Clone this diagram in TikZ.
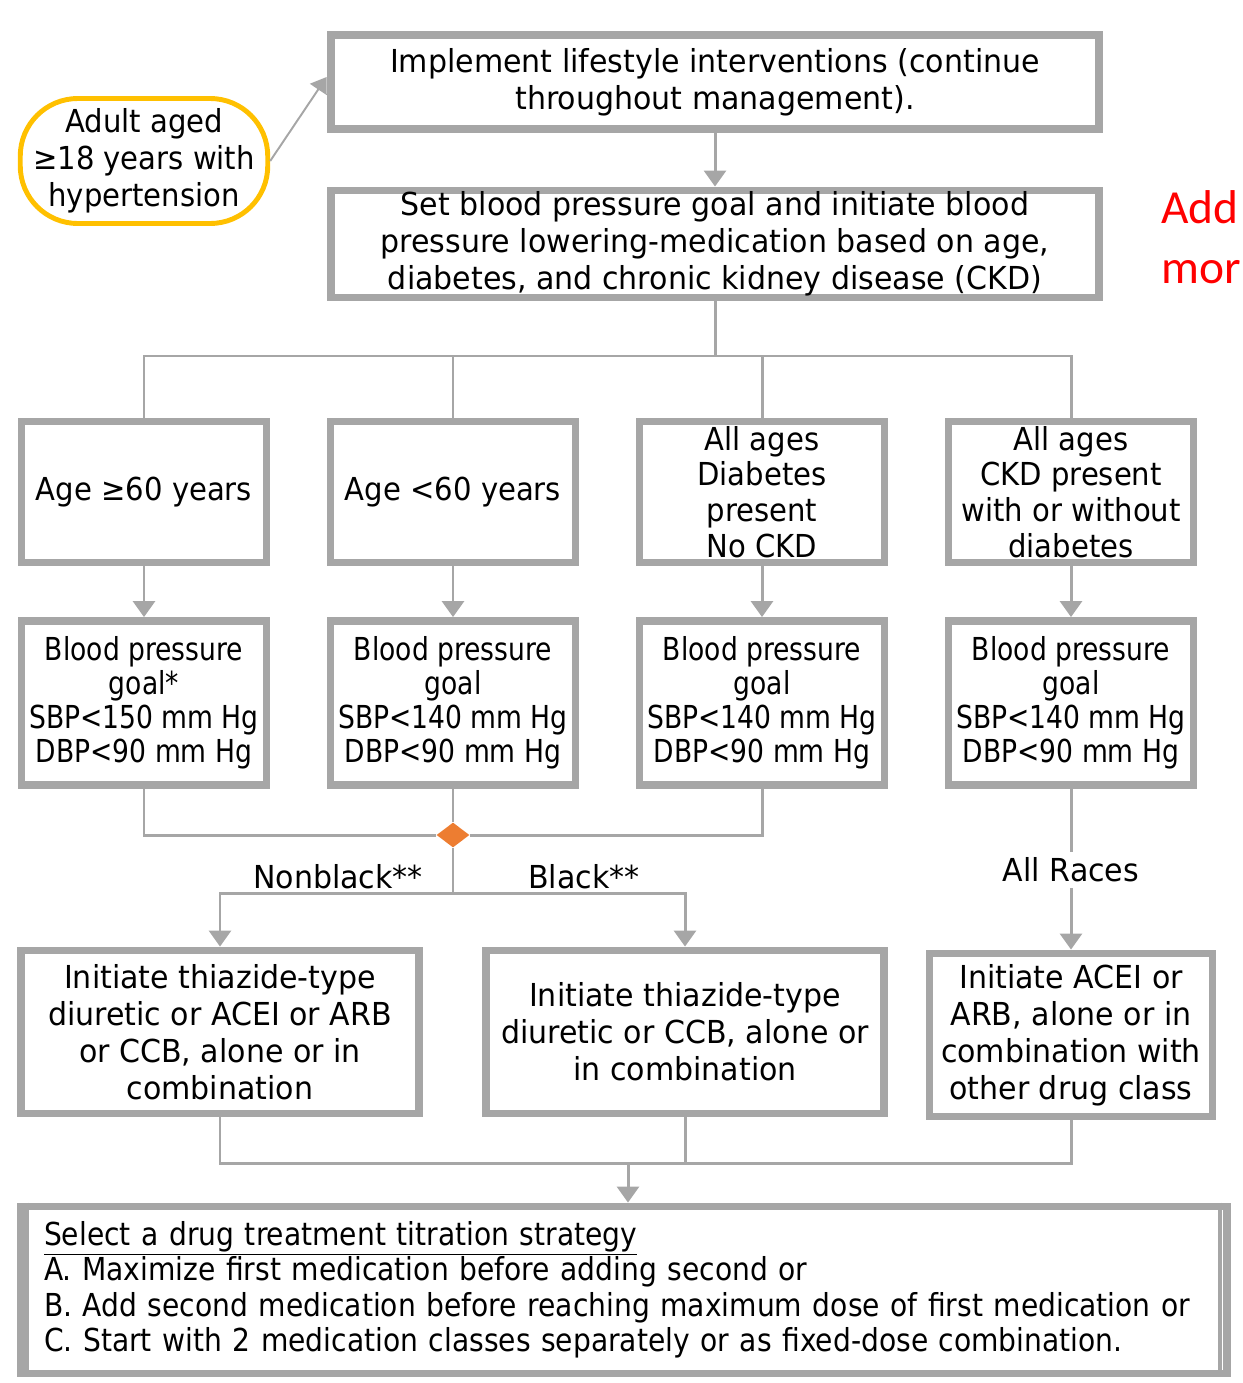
\documentclass[tikz,border=0pt]{standalone}
\usepackage{fontspec}
\setmainfont{DejaVu Sans}[FakeStretch=0.95]
\newfontfamily\agefont{DejaVu Sans}[FakeStretch=0.92]
\newfontfamily\goalfont{DejaVu Sans}[FakeStretch=0.84]
\newfontfamily\stratfont{DejaVu Sans}[FakeStretch=0.89]
\newfontfamily\notefont{Carlito}
\usetikzlibrary{shapes.geometric}
\usetikzlibrary{arrows.meta}
\definecolor{boxgray}{HTML}{A6A6A6}
\definecolor{ovalgold}{HTML}{FFC000}
\definecolor{diaorange}{HTML}{ED7D31}
\tikzstyle{pbox}=[draw=boxgray, line width=4.5pt, align=center, inner sep=0pt, font=\fontsize{18}{21}\selectfont]
\tikzstyle{abox}=[pbox, minimum width=4.9cm, minimum height=2.82cm, font=\agefont\fontsize{18}{20.4}\selectfont]
\tikzstyle{gbox}=[pbox, minimum width=4.9cm, minimum height=3.28cm, font=\goalfont\fontsize{18}{19.3}\selectfont]
\tikzstyle{tbox}=[pbox, minimum height=3.26cm]
\tikzstyle{start}=[draw=ovalgold, line width=2.8pt, rounded corners=1.15cm, minimum width=4.95cm, minimum height=2.5cm, inner sep=0pt, align=center, font=\agefont\fontsize{18}{21}\selectfont]
\tikzstyle{link}=[draw=boxgray, line width=1.7pt]
\tikzstyle{arr}=[link, -{Triangle[width=0.44cm, length=0.32cm]}]
\tikzstyle{thinarr}=[draw=boxgray, line width=1.1pt, -{Triangle[width=0.4cm, length=0.3cm]}]
\tikzstyle{lbl}=[inner sep=3pt, font=\fontsize{18}{21}\selectfont]

\begin{document}
\begin{tikzpicture}[x=0.02cm, y=-0.02cm]
    \useasboundingbox (0,0) rectangle (1243,1383);
    \node[pbox, minimum width=15.38cm, minimum height=1.88cm] (life) at (715,82) {Implement lifestyle interventions (continue\\throughout management).};
    \node[start] (adult) at (144,161) {Adult aged\\≥18 years with\\hypertension};
    \node[pbox, minimum width=15.38cm, minimum height=2.14cm] (goal) at (715,244) {Set blood pressure goal and initiate blood\\pressure lowering-medication based on age,\\diabetes, and chronic kidney disease (CKD)};
    \node[anchor=north west, inner sep=0pt, text=red, align=left, font=\notefont\fontsize{27}{34}\selectfont] (note) at (1161,190) {Add\\mor};

    \node[abox] (age1) at (144,492) {Age ≥60 years};
    \node[abox] (age2) at (453,492) {Age <60 years};
    \node[abox] (dia)  at (762,492) {All ages\\Diabetes\\present\\No CKD};
    \node[abox] (ckd)  at (1071,492) {All ages\\CKD present\\with or without\\diabetes};

    \node[gbox] (g1) at (144,703) {Blood pressure\\goal*\\SBP<150 mm Hg\\DBP<90 mm Hg};
    \node[gbox] (g2) at (453,703) {Blood pressure\\goal\\SBP<140 mm Hg\\DBP<90 mm Hg};
    \node[gbox] (g3) at (762,703) {Blood pressure\\goal\\SBP<140 mm Hg\\DBP<90 mm Hg};
    \node[gbox] (g4) at (1071,703) {Blood pressure\\goal\\SBP<140 mm Hg\\DBP<90 mm Hg};

    \node[diamond, fill=diaorange, minimum width=0.66cm, minimum height=0.5cm, inner sep=0pt] (race) at (453,835) {};
    \node[lbl] (nonblack) at (338,877) {Nonblack**};
    \node[lbl] (black) at (584,877) {Black**};
    \node[lbl] (allraces) at (1071,870) {All Races};

    \node[tbox, minimum width=7.96cm] (t1) at (220,1032) {Initiate thiazide-type\\diuretic or ACEI or ARB\\or CCB, alone or in\\combination};
    \node[tbox, minimum width=7.96cm] (t2) at (685,1032) {Initiate thiazide-type\\diuretic or CCB, alone or\\in combination};
    \node[tbox, minimum width=5.66cm] (t3) at (1071,1035) {Initiate ACEI or\\ARB, alone or in\\combination with\\other drug class};

    \node[pbox, minimum width=24.14cm, minimum height=3.34cm, text width=23.2cm, align=left, inner xsep=0.44cm, font=\stratfont\fontsize{18}{20.2}\selectfont] (strat) at (624,1290) {\underline{Select a drug treatment titration strategy}\\A. Maximize first medication before adding second or\\B. Add second medication before reaching maximum dose of first medication or\\C. Start with 2 medication classes separately or as fixed-dose combination.};
    \draw[boxgray, line width=2.2pt] ([xshift=0.2cm]strat.north west) -- ([xshift=0.2cm]strat.south west);
    \draw[boxgray, line width=2.2pt] ([xshift=-0.22cm]strat.north east) -- ([xshift=-0.22cm]strat.south east);

    \coordinate (hub) at (715,356);
    \coordinate (fork) at (453,893);
    \coordinate (merge) at (628,1163);

    \draw[thinarr] (adult.east) -- ([yshift=0.1cm]life.west);
    \draw[arr] (life) -- (goal);
    \draw[link] (goal) -- (hub);
    \draw[link] (age1.north) |- (hub) -| (ckd.north);
    \draw[link] (age2.north) -- (age2.north |- hub);
    \draw[link] (dia.north) -- (dia.north |- hub);
    \foreach \a/\b in {age1/g1, age2/g2, dia/g3, ckd/g4}
        \draw[arr] (\a) -- (\b);

    \draw[link] (g1.south) |- (race);
    \draw[link] (g3.south) |- (race);
    \draw[link] (g2) -- (race);
    \draw[link] (race) -- (fork);
    \draw[arr] (fork) -| (t1.north);
    \draw[arr] (fork) -| (t2.north);
    \draw[link] (g4) -- (allraces);
    \draw[arr] (allraces) -- (t3);

    \draw[link] (t1.south) |- (merge);
    \draw[link] (t3.south) |- (merge);
    \draw[link] (t2.south) -- (t2.south |- merge);
    \draw[arr] (merge) -- (merge |- strat.north);
\end{tikzpicture}
\end{document}
